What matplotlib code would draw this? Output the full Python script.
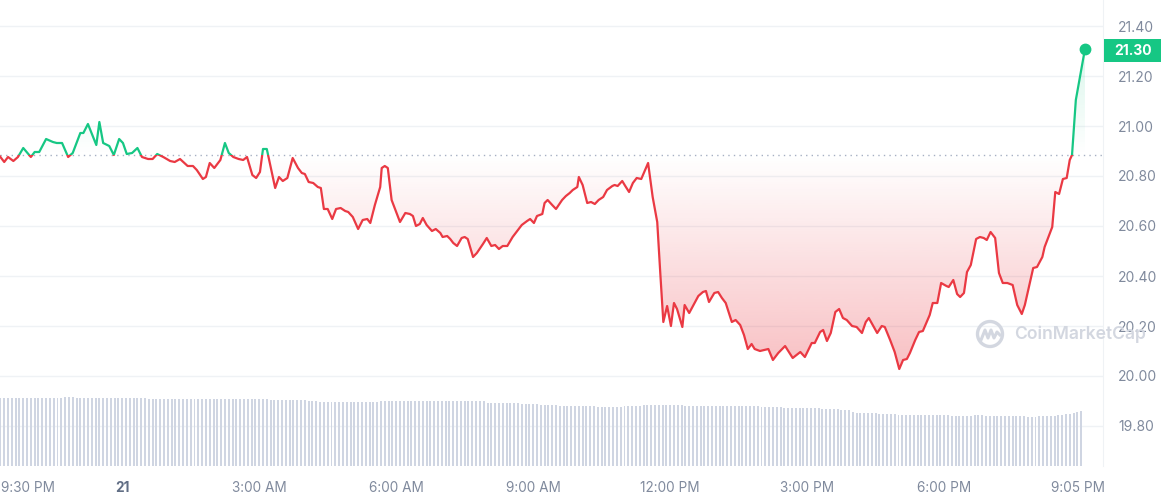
import matplotlib
matplotlib.use("Agg")
import matplotlib.pyplot as plt
import matplotlib.transforms as mtransforms
from matplotlib.patches import Rectangle, Circle
import numpy as np

plt.rcParams["font.family"] = ["Inter", "DejaVu Sans"]

# minutes after 9:05 PM (day 20) and price in USD
minutes = [
    14, 20, 25, 32, 38, 45, 55, 60, 66, 75, 84, 89, 96, 104, 110, 120, 124, 130, 141, 145,
    150, 158, 164, 171, 176, 181, 188, 195, 201, 209, 215, 221, 229, 238, 244, 251, 258, 261, 268, 273,
    281, 285, 290, 296, 304, 310, 315, 321, 328, 334, 339, 346, 351, 356, 360, 365, 371, 376, 381, 386,
    392, 399, 406, 411, 415, 420, 426, 432, 436, 440, 445, 451, 456, 462, 468, 472, 478, 485, 491, 497,
    501, 507, 514, 516, 520, 524, 529, 533, 540, 547, 553, 557, 561, 566, 570, 575, 582, 587, 593, 596,
    602, 606, 610, 615, 621, 625, 629, 636, 641, 649, 654, 660, 665, 670, 675, 681, 688, 695, 700, 707,
    711, 716, 720, 727, 730, 734, 740, 745, 753, 758, 763, 767, 773, 775, 780, 786, 791, 796, 801, 807,
    812, 819, 822, 826, 832, 836, 841, 846, 851, 857, 861, 866, 872, 878, 882, 886, 891, 896, 900, 904,
    911, 914, 920, 925, 932, 938, 942, 946, 953, 958, 963, 968, 976, 981, 987, 992, 997, 1002, 1006, 1013,
    1024, 1030, 1037, 1046, 1056, 1066, 1072, 1081, 1085, 1092, 1096, 1101, 1106, 1112, 1117, 1122, 1127, 1134, 1140, 1147,
    1152, 1156, 1167, 1173, 1177, 1184, 1190, 1196, 1201, 1206, 1210, 1217, 1222, 1227, 1236, 1240, 1246, 1251, 1258, 1261,
    1267, 1272, 1276, 1281, 1285, 1290, 1297, 1302, 1307, 1311, 1316, 1322, 1327, 1332, 1338, 1345, 1351, 1357, 1361, 1372,
    1377, 1384, 1387, 1391, 1397, 1401, 1406, 1411, 1416, 1420, 1423, 1428, 1440,
]
price = [
    20.880, 20.856, 20.876, 20.860, 20.876, 20.912, 20.876, 20.896, 20.896, 20.948, 20.936, 20.932, 20.932, 20.876, 20.892, 20.972, 20.972, 21.008, 20.924, 21.016,
    20.932, 20.920, 20.884, 20.948, 20.932, 20.888, 20.892, 20.912, 20.876, 20.868, 20.868, 20.888, 20.876, 20.860, 20.856, 20.868, 20.848, 20.840, 20.840, 20.824,
    20.788, 20.796, 20.852, 20.832, 20.864, 20.932, 20.892, 20.876, 20.868, 20.864, 20.876, 20.804, 20.792, 20.816, 20.908, 20.908, 20.824, 20.752, 20.796, 20.780,
    20.792, 20.872, 20.832, 20.812, 20.808, 20.776, 20.772, 20.756, 20.752, 20.668, 20.668, 20.628, 20.668, 20.672, 20.660, 20.656, 20.636, 20.588, 20.624, 20.628,
    20.612, 20.684, 20.756, 20.832, 20.840, 20.832, 20.704, 20.672, 20.616, 20.652, 20.648, 20.640, 20.600, 20.608, 20.632, 20.604, 20.580, 20.588, 20.572, 20.556,
    20.560, 20.548, 20.532, 20.520, 20.552, 20.556, 20.548, 20.476, 20.492, 20.528, 20.552, 20.520, 20.524, 20.508, 20.520, 20.520, 20.556, 20.584, 20.604, 20.620,
    20.628, 20.612, 20.640, 20.648, 20.692, 20.704, 20.684, 20.668, 20.704, 20.720, 20.732, 20.744, 20.756, 20.796, 20.764, 20.692, 20.696, 20.688, 20.704, 20.716,
    20.744, 20.760, 20.764, 20.760, 20.780, 20.760, 20.736, 20.772, 20.792, 20.788, 20.816, 20.852, 20.716, 20.616, 20.412, 20.216, 20.280, 20.200, 20.292, 20.268,
    20.196, 20.284, 20.252, 20.280, 20.320, 20.336, 20.340, 20.296, 20.332, 20.336, 20.312, 20.292, 20.216, 20.224, 20.204, 20.164, 20.108, 20.128, 20.108, 20.100,
    20.108, 20.064, 20.092, 20.120, 20.072, 20.096, 20.076, 20.132, 20.132, 20.176, 20.184, 20.140, 20.172, 20.256, 20.268, 20.232, 20.224, 20.200, 20.196, 20.172,
    20.216, 20.232, 20.172, 20.200, 20.196, 20.144, 20.096, 20.028, 20.064, 20.068, 20.092, 20.144, 20.176, 20.180, 20.244, 20.292, 20.292, 20.372, 20.360, 20.356,
    20.384, 20.328, 20.316, 20.332, 20.416, 20.444, 20.548, 20.556, 20.552, 20.544, 20.576, 20.552, 20.412, 20.372, 20.372, 20.364, 20.284, 20.248, 20.284, 20.432,
    20.436, 20.476, 20.516, 20.548, 20.596, 20.736, 20.728, 20.788, 20.792, 20.864, 20.884, 21.104, 21.308,
]
ref_price = 20.884
last_price_label = "21.30"

# 24h volume (M USD), one bar every 5 minutes from 9:20 PM
volume = [
    20.5, 20.6, 20.6, 20.6, 20.6, 20.6, 20.6, 20.6, 20.6, 20.6, 20.6, 20.6,
    20.6, 20.6, 20.6, 20.6, 20.6, 20.8, 20.9, 20.8, 20.6, 20.6, 20.6, 20.5,
    20.6, 20.6, 20.6, 20.6, 20.6, 20.6, 20.6, 20.6, 20.6, 20.6, 20.6, 20.6,
    20.6, 20.6, 20.6, 20.4, 20.4, 20.4, 20.4, 20.4, 20.4, 20.4, 20.4, 20.4,
    20.4, 20.4, 20.4, 20.4, 20.4, 20.4, 20.4, 20.4, 20.4, 20.4, 20.4, 20.4,
    20.4, 20.4, 20.4, 20.4, 20.3, 20.2, 20.2, 20.2, 20.2, 20.2, 20.2, 20.1,
    20.1, 20.1, 20.1, 20.0, 20.0, 20.0, 20.0, 19.9, 19.9, 19.8, 19.8, 19.6,
    19.5, 19.5, 19.5, 19.5, 19.5, 19.5, 19.5, 19.5, 19.5, 19.5, 19.5, 19.5,
    19.5, 19.5, 19.5, 19.5, 19.7, 19.7, 19.7, 19.7, 19.7, 19.7, 19.7, 19.7,
    19.7, 19.7, 19.7, 19.7, 19.7, 19.7, 19.7, 19.7, 19.7, 19.7, 19.7, 19.7,
    19.7, 19.7, 19.7, 19.7, 19.7, 19.7, 19.7, 19.7, 19.2, 19.2, 19.2, 19.2,
    19.1, 19.1, 19.0, 19.0, 19.0, 18.9, 18.8, 18.7, 18.7, 18.7, 18.6, 18.6,
    18.5, 18.4, 18.4, 18.3, 18.3, 18.2, 18.2, 18.2, 18.2, 18.2, 18.2, 18.1,
    18.1, 18.0, 18.0, 18.0, 18.0, 18.0, 18.0, 18.0, 18.1, 18.2, 18.3, 18.3,
    18.3, 18.4, 18.4, 18.4, 18.5, 18.5, 18.5, 18.5, 18.5, 18.4, 18.4, 18.4,
    18.3, 18.3, 18.2, 18.2, 18.2, 18.2, 18.2, 18.2, 18.2, 18.2, 18.2, 18.2,
    18.2, 18.2, 18.2, 18.2, 18.2, 18.1, 18.1, 18.1, 18.0, 18.0, 18.0, 17.9,
    17.8, 17.8, 17.7, 17.7, 17.7, 17.7, 17.7, 17.6, 17.6, 17.6, 17.5, 17.4,
    17.3, 17.3, 17.2, 17.2, 17.1, 17.0, 16.9, 16.8, 16.3, 16.1, 16.0, 16.0,
    16.0, 15.9, 15.9, 15.8, 15.8, 15.7, 15.6, 15.6, 15.5, 15.5, 15.5, 15.5,
    15.5, 15.5, 15.5, 15.5, 15.5, 15.4, 15.4, 15.4, 15.4, 15.3, 15.2, 15.1,
    15.0, 15.0, 15.1, 15.2, 15.3, 15.3, 15.3, 15.2, 15.2, 15.2, 15.2, 15.1,
    15.1, 15.1, 15.0, 15.0, 15.0, 15.0, 14.9, 14.9, 14.9, 15.0, 15.0, 15.0,
    15.1, 15.2, 15.3, 15.5, 15.6, 15.8, 16.0, 16.2, 16.5,
]
vol_minutes = np.arange(15, 15 + 5 * len(volume), 5)

tick_minutes = [25, 175, 355, 535, 715, 895, 1075, 1255, 1440]
tick_labels = ["9:30 PM", "21", "3:00 AM", "6:00 AM", "9:00 AM", "12:00 PM", "3:00 PM", "6:00 PM", "9:05 PM"]
price_ticks = [19.8, 20.0, 20.2, 20.4, 20.6, 20.8, 21.0, 21.2, 21.4]

RED = "#ea3943"
GREEN = "#16c784"
GRAY = "#808a9d"

x = np.array(minutes, dtype=float)
y = np.array(price)

fig = plt.figure(figsize=(11.61, 5.0), dpi=100)
rect = [0.0, 34 / 500, 1103 / 1161, 466 / 500]
xlim = (14.45, 1463.7)
ylim = (19.64, 21.504)

ax = fig.add_axes(rect)
ax_v = fig.add_axes(rect, zorder=2)
ax_v.patch.set_visible(False)

# volume
ax_v.bar(vol_minutes, volume, width=2.6, color="#cfd5e2", linewidth=0)
ax_v.set_xlim(xlim)
ax_v.set_ylim(0, 141)
ax_v.axis("off")

# grid
for t in price_ticks:
    ax.axhline(t, color="#eff2f5", lw=1, zorder=0)
ax.axhline(ref_price, color="#a6b0c3", lw=1, ls=(0, (1, 3)), zorder=1)

# gradient fills
red_poly = ax.fill_between(x, np.minimum(y, ref_price), ref_price, facecolor="none", edgecolor="none")
grad = np.zeros((256, 1, 4))
grad[..., :3] = matplotlib.colors.to_rgb(RED)
grad[:, 0, 3] = np.linspace(0.33, 0.0, 256)
im = ax.imshow(grad, extent=[xlim[0], xlim[1], 20.0, ref_price], origin="lower", aspect="auto", zorder=1)
im.set_clip_path(red_poly.get_paths()[0], transform=ax.transData)

green_poly = ax.fill_between(x, ref_price, np.maximum(y, ref_price), facecolor="none", edgecolor="none")
grad_g = np.zeros((256, 1, 4))
grad_g[..., :3] = matplotlib.colors.to_rgb(GREEN)
grad_g[:, 0, 3] = np.linspace(0.0, 0.16, 256)
im_g = ax.imshow(grad_g, extent=[xlim[0], xlim[1], ref_price, 21.31], origin="lower", aspect="auto", zorder=1)
im_g.set_clip_path(green_poly.get_paths()[0], transform=ax.transData)

# price line split at the reference price
line_r, = ax.plot(x, y, color=RED, lw=1.6, zorder=3, solid_joinstyle="round")
line_r.set_clip_path(Rectangle((xlim[0], ylim[0]), xlim[1] - xlim[0], ref_price - ylim[0], transform=ax.transData))
line_g, = ax.plot(x, y, color=GREEN, lw=1.6, zorder=3, solid_joinstyle="round")
line_g.set_clip_path(Rectangle((xlim[0], ref_price), xlim[1] - xlim[0], ylim[1] - ref_price, transform=ax.transData))
ax.plot(x[-1], y[-1], "o", color=GREEN, ms=7.5, zorder=4)

ax.set_xlim(xlim)
ax.set_ylim(ylim)

for s in ["top", "left", "bottom"]:
    ax.spines[s].set_visible(False)
ax.spines["right"].set_color("#eff2f5")

ax.yaxis.tick_right()
ax.set_yticks(price_ticks)
ax.set_yticklabels([f"{t:.2f}" for t in price_ticks])
ax.tick_params(axis="y", length=0, pad=11, labelsize=10, labelcolor=GRAY)

ax.set_xticks(tick_minutes)
ax.set_xticklabels(tick_labels)
ax.tick_params(axis="x", length=0, pad=11, labelsize=9.8, labelcolor=GRAY)
labels = ax.get_xticklabels()
labels[0].set_horizontalalignment("left")
labels[0].set_transform(labels[0].get_transform() + mtransforms.ScaledTranslation(-0.07, 0, fig.dpi_scale_trans))
labels[-1].set_transform(labels[-1].get_transform() + mtransforms.ScaledTranslation(-0.07, 0, fig.dpi_scale_trans))
labels[1].set_fontweight("bold")
labels[1].set_color("#616e85")

# last price tag
tr = mtransforms.blended_transform_factory(ax.transAxes, ax.transData)
ax.add_patch(Rectangle((1 + 1 / 1103, 21.30 - 0.046), 58 / 1103, 0.092, transform=tr,
                       facecolor=GREEN, edgecolor="none", clip_on=False, zorder=5))
ax.text(1 + 30 / 1103, 21.30, last_price_label, transform=tr, ha="center", va="center",
        color="white", fontsize=10, fontweight="bold", zorder=6, clip_on=False)

# watermark
wm = "#d3d7e0"
pix = mtransforms.IdentityTransform()
fig.add_artist(Circle((990, 166), 12.5, transform=pix, fill=False, ec=wm, lw=2.4))
fig.add_artist(matplotlib.lines.Line2D([981, 985, 988, 991, 994, 997, 1000],
                                       [160, 170, 162, 170, 162, 168, 165],
                                       transform=pix, color=wm, lw=2.2, solid_joinstyle="round"))
fig.text(1014 / 1161, 166 / 500, "CoinMarketCap", color=wm, fontsize=12.6, fontweight="semibold",
         ha="left", va="center")

fig.savefig("out.png", dpi=100)
